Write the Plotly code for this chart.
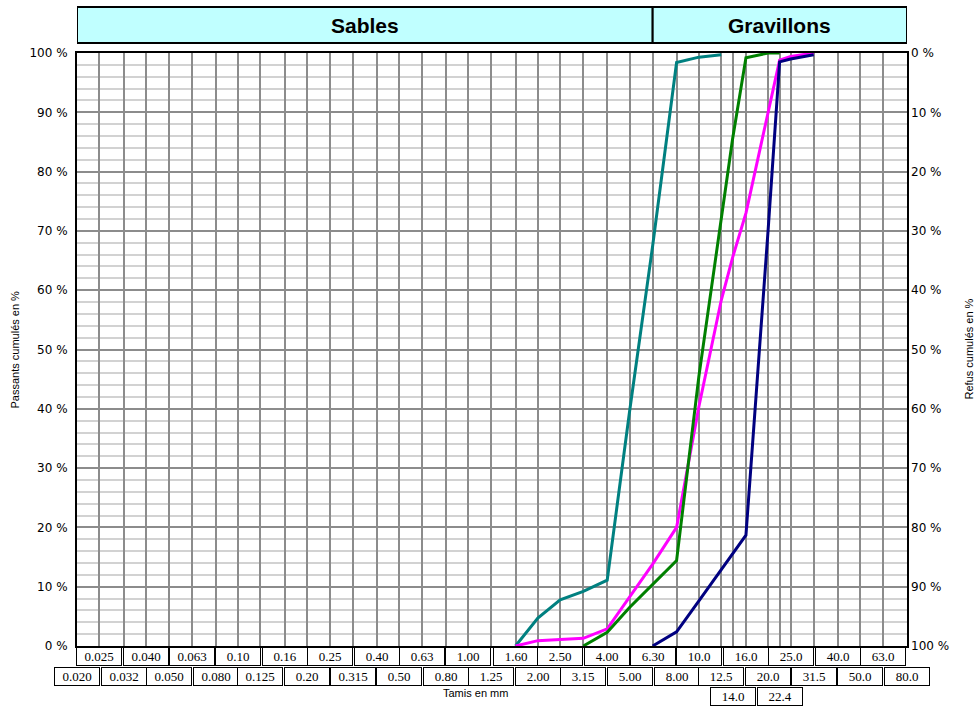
import numpy as np
import plotly.graph_objects as go

# ---- data -----------------------------------------------------------------
sieves = [0.020, 0.025, 0.032, 0.040, 0.050, 0.063, 0.080, 0.10, 0.125, 0.16,
          0.20, 0.25, 0.315, 0.40, 0.50, 0.63, 0.80, 1.00, 1.25, 1.60, 2.00,
          2.50, 3.15, 4.00, 5.00, 6.30, 8.00, 10.0, 12.5, 14.0, 16.0, 20.0,
          22.4, 25.0, 31.5, 40.0, 50.0, 63.0, 80.0]

row1_labels = ["0.025", "0.040", "0.063", "0.10", "0.16", "0.25", "0.40", "0.63",
               "1.00", "1.60", "2.50", "4.00", "6.30", "10.0", "16.0", "25.0",
               "40.0", "63.0"]
row2_labels = ["0.020", "0.032", "0.050", "0.080", "0.125", "0.20", "0.315", "0.50",
               "0.80", "1.25", "2.00", "3.15", "5.00", "8.00", "12.5", "20.0",
               "31.5", "50.0", "80.0"]
row3_labels = ["14.0", "22.4"]

y_ticks = [0, 10, 20, 30, 40, 50, 60, 70, 80, 90, 100]
y_tick_text = [f"{v} %" for v in y_ticks]

zones = ["Sables", "Gravillons"]
zone_bounds = [(0.020, 6.30), (6.30, 80.0)]

teal_x = [1.60, 2.00, 2.50, 3.15, 4.00, 5.00, 6.30, 8.00, 10.0, 12.5]
teal_y = [0.0, 4.7, 7.8, 9.2, 11.1, 39.5, 67.5, 98.4, 99.3, 99.7]

magenta_x = [1.60, 2.00, 2.50, 3.15, 4.00, 5.00, 6.30, 8.00, 10.0, 12.5, 14.0,
             16.0, 20.0, 22.4, 25.0, 31.5]
magenta_y = [0.0, 0.9, 1.1, 1.3, 2.9, 8.2, 13.8, 20.0, 40.4, 58.3, 65.5,
             73.0, 90.5, 98.8, 99.4, 100.0]

green_x = [3.15, 4.00, 5.00, 6.30, 8.00, 10.0, 12.5, 14.0, 16.0, 20.0, 22.4]
green_y = [0.0, 2.3, 6.5, 10.3, 14.4, 45.5, 72.5, 85.5, 99.2, 100.0, 100.0]

navy_x = [6.30, 8.00, 10.0, 12.5, 14.0, 16.0, 20.0, 22.4, 25.0, 31.5]
navy_y = [0.0, 2.4, 7.6, 12.8, 15.5, 18.7, 70.5, 98.5, 99.0, 99.7]

series = [
    (teal_x, teal_y, "#008080"),
    (magenta_x, magenta_y, "#FF00FF"),
    (green_x, green_y, "#008000"),
    (navy_x, navy_y, "#000080"),
]

# ---- figure ---------------------------------------------------------------
fig = go.Figure()

for xs, ys, col in series:
    fig.add_trace(go.Scatter(x=xs, y=ys, mode="lines",
                             line=dict(color=col, width=3),
                             showlegend=False, hoverinfo="skip"))

# invisible trace to activate right axis
fig.add_trace(go.Scatter(x=[sieves[0]], y=[0], yaxis="y2", mode="lines",
                         line=dict(width=0), showlegend=False, hoverinfo="skip"))

tick_font = dict(family="DejaVu Sans", size=12, color="black")
box_font = dict(family="Liberation Serif", size=13, color="black")

annotations = []
shapes = []

# label boxes below the plot
for labels, shift in [(row1_labels, -1), (row2_labels, -20.5), (row3_labels, -40.5)]:
    for lab in labels:
        annotations.append(dict(
            x=np.log10(float(lab)), xref="x", y=0, yref="paper",
            yanchor="top", xanchor="center", yshift=shift,
            text=lab, showarrow=False, font=box_font,
            width=42, height=15, borderpad=1,
            bordercolor="black", borderwidth=1, bgcolor="white"))

# header band
for name, (a, b) in zip(zones, zone_bounds):
    shapes.append(dict(type="rect", xref="x", yref="paper",
                       x0=a, x1=b, ysizemode="pixel", yanchor=1, y0=10, y1=46,
                       fillcolor="#C0FFFF", line=dict(color="black", width=2),
                       layer="above"))
    annotations.append(dict(
        x=(np.log10(a) + np.log10(b)) / 2, xref="x", y=1, yref="paper",
        yanchor="middle", xanchor="center", yshift=28,
        text="<b>" + name + "</b>", showarrow=False,
        font=dict(family="Liberation Sans", size=21, color="black")))

# axis titles
annotations.append(dict(x=0.48, xref="paper", y=0, yref="paper", yshift=-47,
                        yanchor="middle", xanchor="center", text="Tamis en mm",
                        showarrow=False,
                        font=dict(family="Liberation Sans", size=11, color="black")))
annotations.append(dict(x=-0.0747, xref="paper", y=0.5, yref="paper",
                        yanchor="middle", xanchor="center", textangle=-90,
                        text="Passants cumulés en %", showarrow=False,
                        font=dict(family="Liberation Sans", size=11, color="black")))
annotations.append(dict(x=1.0735, xref="paper", y=0.5, yref="paper",
                        yanchor="middle", xanchor="center", textangle=-90,
                        text="Refus cumulés en %", showarrow=False,
                        font=dict(family="Liberation Sans", size=11, color="black")))

fig.update_layout(
    width=976, height=711,
    margin=dict(l=77, r=69, t=53, b=65),
    paper_bgcolor="white", plot_bgcolor="white",
    showlegend=False,
    xaxis=dict(type="log", range=[np.log10(sieves[0]), np.log10(sieves[-1])],
               tickvals=sieves, showticklabels=False, ticks="",
               showgrid=True, gridcolor="#8C8C8C", gridwidth=2,
               showline=True, linecolor="black", linewidth=2, mirror=True,
               zeroline=False),
    yaxis=dict(range=[0, 100], tickvals=y_ticks, ticktext=y_tick_text,
               tickfont=tick_font, ticks="", ticklabelstandoff=5,
               showgrid=True, gridcolor="#8C8C8C", gridwidth=2,
               minor=dict(dtick=2, showgrid=True, gridcolor="#D2D2D2", gridwidth=2),
               showline=True, linecolor="black", linewidth=2, mirror=True,
               zeroline=False, automargin=False),
    yaxis2=dict(range=[100, 0], overlaying="y", side="right",
                tickvals=y_ticks, ticktext=y_tick_text, tickfont=tick_font,
                ticks="", ticklabelstandoff=3, showgrid=False, zeroline=False,
                showline=False, automargin=False),
    annotations=annotations,
    shapes=shapes,
)

fig.write_html("out.html",
               config={"displayModeBar": False},
               post_script="document.body.style.margin='0px';"
                           "document.body.style.overflow='hidden';")
